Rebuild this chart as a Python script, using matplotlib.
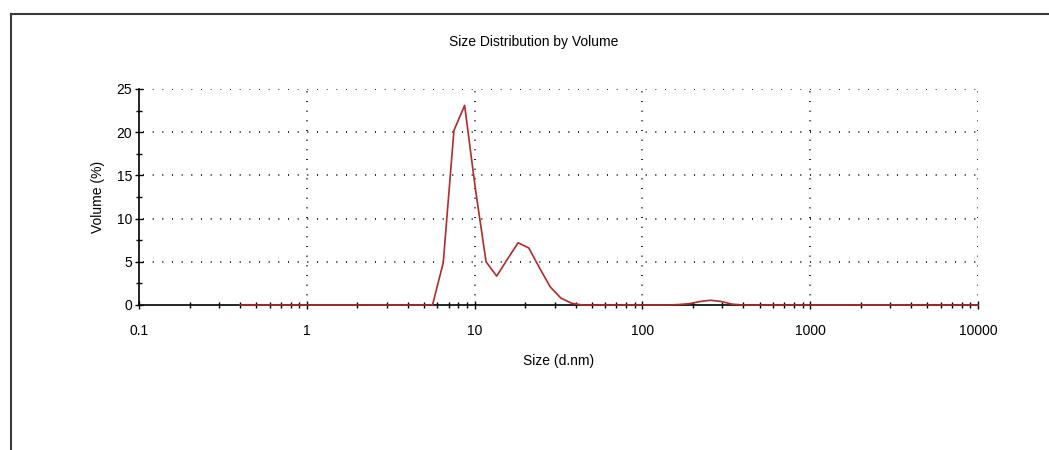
import matplotlib
matplotlib.use("Agg")
import matplotlib.pyplot as plt
from matplotlib.lines import Line2D
from matplotlib.ticker import LogLocator, FixedLocator, NullFormatter, FixedFormatter

plt.rcParams['font.family'] = ['Liberation Sans', 'DejaVu Sans']

sizes = [0.4, 0.4632, 0.5365, 0.6213, 0.7195, 0.8332, 0.9649, 1.117, 1.294, 1.499,
         1.736, 2.010, 2.328, 2.696, 3.122, 3.615, 4.187, 4.849, 5.615, 6.503,
         7.531, 8.721, 10.10, 11.70, 13.54, 15.69, 18.17, 21.04, 24.36, 28.21,
         32.67, 37.84, 43.82, 50.75, 58.77, 68.06, 78.82, 91.28, 105.7, 122.4,
         141.8, 164.2, 190.1, 220.2, 255.0, 295.3, 342.0, 396.1, 458.7, 531.2,
         615.1, 712.4, 825.0, 955.4, 1106, 1281, 1484, 1718, 1990, 2305,
         2669, 3091, 3580, 4145, 4801, 5560, 6439, 7456, 8635, 10000]
volume = [0, 0, 0, 0, 0, 0, 0, 0, 0, 0,
          0, 0, 0, 0, 0, 0, 0, 0, 0, 4.9,
          20.2, 23.1, 13.5, 5.0, 3.35, 5.3, 7.2, 6.6, 4.3, 2.1,
          0.8, 0.2, 0, 0, 0, 0, 0, 0, 0, 0,
          0, 0.05, 0.15, 0.4, 0.55, 0.4, 0.1, 0, 0, 0,
          0, 0, 0, 0, 0, 0, 0, 0, 0, 0,
          0, 0, 0, 0, 0, 0, 0, 0, 0, 0]

x_ticks = [0.1, 1, 10, 100, 1000, 10000]
x_labels = ['0.1', '1', '10', '100', '1000', '10000']
y_ticks = [0, 5, 10, 15, 20, 25]

fig = plt.figure(figsize=(10.49, 4.5), dpi=100)
fig.patch.set_facecolor('white')

# figure border (top and left)
W, H = 1049, 450
fig.add_artist(Line2D([10.5 / W, 1.0], [1 - 13.5 / H, 1 - 13.5 / H], color='#3a3a3a', lw=1.5,
                      transform=fig.transFigure))
fig.add_artist(Line2D([10.5 / W, 10.5 / W], [0.0, 1 - 13.5 / H], color='#3a3a3a', lw=1.5,
                      transform=fig.transFigure))

ax = fig.add_axes([139 / W, 1 - 305 / H, (978 - 139) / W, (305 - 89) / H])
ax.set_xscale('log')
ax.set_xlim(0.1, 10000)
ax.set_ylim(0, 25)

ax.xaxis.set_major_locator(FixedLocator(x_ticks))
ax.xaxis.set_major_formatter(FixedFormatter(x_labels))
ax.xaxis.set_minor_locator(LogLocator(base=10, subs=[2, 3, 4, 5, 6, 7, 8, 9]))
ax.xaxis.set_minor_formatter(NullFormatter())
ax.yaxis.set_major_locator(FixedLocator(y_ticks))
ax.yaxis.set_minor_locator(FixedLocator([2.5, 7.5, 12.5, 17.5, 22.5]))

for s in ['top', 'right']:
    ax.spines[s].set_visible(False)
for s in ['left', 'bottom']:
    ax.spines[s].set_color('black')
    ax.spines[s].set_linewidth(1.2)

ax.tick_params(axis='both', which='major', direction='inout', length=6, width=1,
               labelsize=10, colors='black')
ax.tick_params(axis='both', which='minor', direction='inout', length=5, width=1)
ax.tick_params(axis='x', which='major', pad=11)
ax.tick_params(axis='y', which='major', pad=2)

dot = (0, (0.6, 5.2))
for xv in [1, 10, 100, 1000, 10000]:
    ax.axvline(xv, color='black', lw=1.2, linestyle=dot, zorder=1)
for yv in [5, 10, 15, 20, 25]:
    ax.axhline(yv, color='black', lw=1.2, linestyle=dot, zorder=1, xmin=0.005)

ax.plot(sizes, volume, color='#b22a2a', lw=1.2, zorder=5, clip_on=False)

ax.set_xlabel('Size (d.nm)', fontsize=10, labelpad=11)
ax.set_ylabel('Volume (%)', fontsize=10, labelpad=8)
fig.text(534 / W, 1 - 42 / H, 'Size Distribution by Volume', ha='center', va='center', fontsize=10)

fig.savefig('out.png', dpi=100, facecolor='white')
